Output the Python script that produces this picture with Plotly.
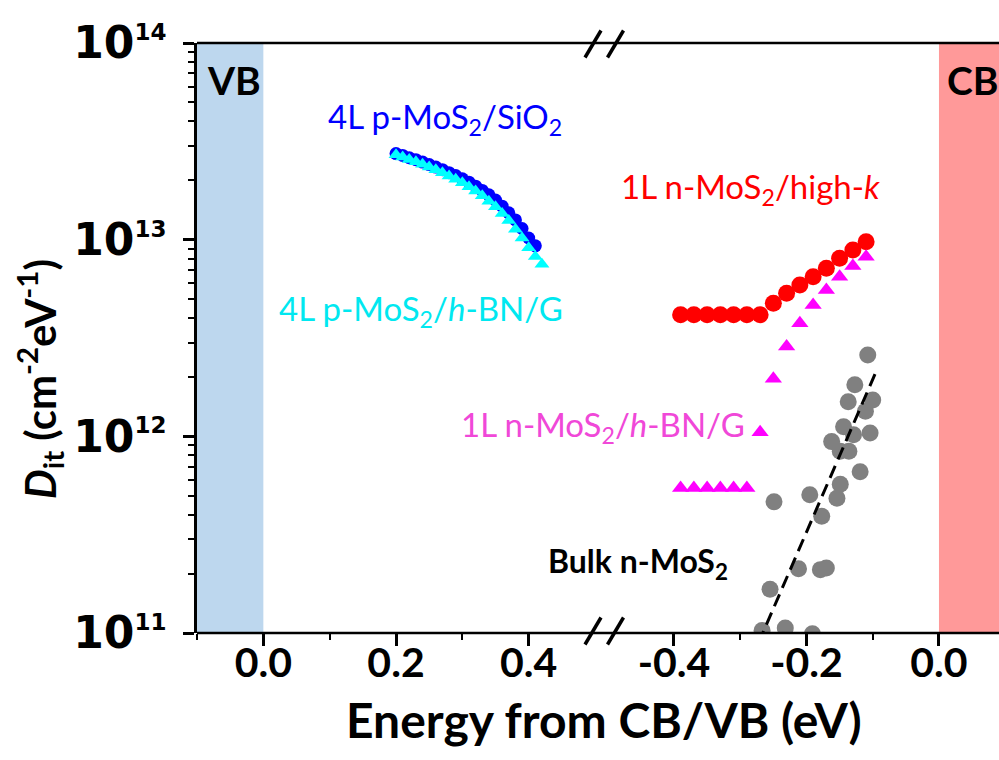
import plotly.graph_objects as go

# ---------------- data ----------------
# 4L p-MoS2 (valence-band side, energy from VB)
sio2_x = [0.20, 0.21, 0.22, 0.23, 0.24, 0.25, 0.26, 0.27, 0.28, 0.29, 0.30,
          0.31, 0.32, 0.33, 0.34, 0.35, 0.36, 0.37, 0.38, 0.39, 0.40, 0.41]
sio2_dit = [2.74e13, 2.68e13, 2.61e13, 2.55e13, 2.48e13, 2.41e13, 2.34e13, 2.27e13,
            2.19e13, 2.12e13, 2.04e13, 1.96e13, 1.87e13, 1.78e13, 1.69e13, 1.59e13,
            1.48e13, 1.37e13, 1.26e13, 1.14e13, 1.02e13, 9.3e12]

hbn4_x = [0.20, 0.21, 0.22, 0.23, 0.24, 0.25, 0.26, 0.27, 0.28, 0.29, 0.30, 0.31,
          0.32, 0.33, 0.34, 0.35, 0.36, 0.37, 0.38, 0.39, 0.40, 0.41, 0.42]
hbn4_dit = [2.70e13, 2.63e13, 2.56e13, 2.49e13, 2.42e13, 2.34e13, 2.27e13, 2.19e13,
            2.11e13, 2.03e13, 1.95e13, 1.86e13, 1.77e13, 1.67e13, 1.57e13, 1.47e13,
            1.36e13, 1.25e13, 1.13e13, 1.02e13, 9.1e12, 8.2e12, 7.5e12]

# 1L n-MoS2 (conduction-band side, energy from CB)
cb_x = [-0.39, -0.37, -0.35, -0.33, -0.31, -0.29, -0.27, -0.25,
        -0.23, -0.21, -0.19, -0.17, -0.15, -0.13, -0.11]
highk_dit = [4.15e12, 4.15e12, 4.15e12, 4.15e12, 4.15e12, 4.15e12, 4.15e12, 4.75e12,
             5.34e12, 5.88e12, 6.48e12, 7.15e12, 8.04e12, 8.85e12, 9.76e12]
hbn1_dit = [5.46e11, 5.46e11, 5.46e11, 5.46e11, 5.46e11, 5.46e11, 1.05e12, 1.96e12,
            2.86e12, 3.76e12, 4.66e12, 5.55e12, 6.48e12, 7.35e12, 8.19e12]

# Bulk n-MoS2
bulk_x = [-0.1075, -0.127, -0.137, -0.100, -0.111, -0.144, -0.129, -0.104,
          -0.162, -0.149, -0.136, -0.119, -0.149, -0.154, -0.195, -0.249,
          -0.177, -0.212, -0.179, -0.170, -0.255, -0.267, -0.232, -0.191]
bulk_dit = [2.59e12, 1.83e12, 1.50e12, 1.53e12, 1.34e12, 1.12e12, 1.02e12, 1.04e12,
            9.4e11, 8.4e11, 8.4e11, 6.6e11, 5.7e11, 4.85e11, 5.05e11, 4.65e11,
            3.92e11, 2.12e11, 2.10e11, 2.14e11, 1.67e11, 1.03e11, 1.06e11, 0.99e11]
fit_x = [-0.2725, -0.094]
fit_dit = [8.9e10, 2.17e12]

# axis ticks
left_ticks = [0.0, 0.2, 0.4]
left_labels = ["0.0", "0.2", "0.4"]
right_ticks = [-0.4, -0.2, 0.0]
right_labels = ["-0.4", "-0.2", "0.0"]
y_ticks = [1e11, 1e12, 1e13, 1e14]
y_exps = ["11", "12", "13", "14"]
y_labels = ["10<sup><span style='font-size:23px'>%s</span></sup>" % e for e in y_exps]

# ---------------- geometry helpers ----------------
W, H = 999, 760
L, R, T, B = 197, 0, 43, 127
PW, PH = W - L - R, H - T - B


def px(X):
    return (X - L) / PW


def py(Y):
    return (H - B - Y) / PH


LEFT_RANGE = [-0.1, 0.5]
RIGHT_RANGE = [-0.505, 0.0906]
LEFT_DOMAIN = [0, 0.4963]
RIGHT_DOMAIN = [0.508, 1]

fig = go.Figure()

fig.add_trace(go.Scatter(x=sio2_x, y=sio2_dit, mode="markers", xaxis="x", yaxis="y",
                         marker=dict(symbol="circle", size=13, color="#0000FF", line=dict(width=0))))
fig.add_trace(go.Scatter(x=hbn4_x, y=hbn4_dit, mode="markers", xaxis="x", yaxis="y",
                         marker=dict(symbol="triangle-up", size=13, color="#00FFFF", line=dict(width=0))))

fig.add_trace(go.Scatter(x=cb_x, y=highk_dit, mode="markers", xaxis="x2", yaxis="y",
                         marker=dict(symbol="circle", size=17, color="#FF0000", line=dict(width=0))))
fig.add_trace(go.Scatter(x=cb_x, y=hbn1_dit, mode="markers", xaxis="x2", yaxis="y",
                         marker=dict(symbol="triangle-up", size=15, color="#FF00FF", line=dict(width=0))))
fig.add_trace(go.Scatter(x=bulk_x, y=bulk_dit, mode="markers", xaxis="x2", yaxis="y",
                         marker=dict(symbol="circle", size=17, color="#808080", line=dict(width=0))))
fig.add_trace(go.Scatter(x=fit_x, y=fit_dit, mode="lines", xaxis="x2", yaxis="y",
                         line=dict(color="black", width=3, dash="13px,7px")))

tick_font = dict(family="Lato", size=41, color="black", weight="bold")
common_x = dict(showgrid=False, zeroline=False, showline=False, ticks="outside",
                ticklen=12, tickwidth=2.5, tickcolor="black", tickfont=tick_font,
                tickmode="array", anchor="y", ticklabelstandoff=-18)

minor_y = []
for dec in [1e11, 1e12, 1e13]:
    for m in range(2, 10):
        minor_y.append(m * dec)

fig.update_layout(
    width=W, height=H,
    margin=dict(l=L, r=R, t=T, b=B, pad=0),
    paper_bgcolor="white", plot_bgcolor="white",
    showlegend=False,
    xaxis=dict(domain=LEFT_DOMAIN, range=LEFT_RANGE, tickvals=left_ticks, ticktext=left_labels,
               minor=dict(tickvals=[-0.1, 0.1, 0.3], ticks="outside", ticklen=6, tickwidth=2,
                          tickcolor="black"),
               **common_x),
    xaxis2=dict(domain=RIGHT_DOMAIN, range=RIGHT_RANGE, tickvals=right_ticks, ticktext=right_labels,
                minor=dict(tickvals=[-0.3, -0.1], ticks="outside", ticklen=6, tickwidth=2,
                           tickcolor="black"),
                **common_x),
    yaxis=dict(type="log", range=[11, 14], showgrid=False, zeroline=False,
               showline=True, linewidth=2.5, linecolor="black", mirror=False,
               ticks="outside", ticklen=11, tickwidth=2.5, tickcolor="black",
               tickmode="array", tickvals=y_ticks, ticktext=y_labels,
               ticklabelstandoff=8,
               tickfont=dict(family="DejaVu Sans", size=44, color="black", weight="bold"),
               minor=dict(tickvals=minor_y, ticks="outside", ticklen=6, tickwidth=2,
                          tickcolor="black")),
)

shapes = [
    # band-edge regions
    dict(type="rect", xref="x", yref="paper", x0=-0.1, x1=0.0, y0=0, y1=1,
         fillcolor="#BDD7EE", line=dict(width=0), layer="below"),
    dict(type="rect", xref="x2", yref="paper", x0=0.0, x1=RIGHT_RANGE[1], y0=0, y1=1,
         fillcolor="#FF9999", line=dict(width=0), layer="below"),
    # frame lines across both panels
    dict(type="line", xref="paper", yref="paper", x0=0, x1=1, y0=0, y1=0,
         line=dict(color="black", width=2.5), layer="above"),
    dict(type="line", xref="paper", yref="paper", x0=0, x1=1, y0=1, y1=1,
         line=dict(color="black", width=2.5), layer="above"),
]
# axis-break marks
for cx in [593, 615.5]:
    for cy in [631, 44]:
        shapes.append(dict(type="line", xref="paper", yref="paper",
                           xsizemode="pixel", ysizemode="pixel",
                           xanchor=px(cx), yanchor=py(cy),
                           x0=-8, x1=8, y0=-13.5, y1=13.5,
                           line=dict(color="black", width=3.5), layer="above"))
fig.update_layout(shapes=shapes)

label_font = "Lato"
annotations = [
    dict(text="<b>VB</b>", x=px(234), y=py(80), font=dict(family=label_font, size=39, color="black")),
    dict(text="<b>CB</b>", x=px(972), y=py(80), font=dict(family=label_font, size=39, color="black")),
    dict(text="4L p-MoS<sub>2</sub>/SiO<sub>2</sub>", x=px(445), y=py(119),
         font=dict(family=label_font, size=33, color="#0000FF")),
    dict(text="4L p-MoS<sub>2</sub>/<i>h</i>-BN/G", x=px(420.5), y=py(310),
         font=dict(family=label_font, size=33, color="#00E8F0")),
    dict(text="1L n-MoS<sub>2</sub>/high-<i>k</i>", x=px(750), y=py(188),
         font=dict(family=label_font, size=33, color="#FF0000")),
    dict(text="1L n-MoS<sub>2</sub>/<i>h</i>-BN/G", x=px(603), y=py(426),
         font=dict(family=label_font, size=33, color="#F048D8")),
    dict(text="<b>Bulk n-MoS<sub>2</sub></b>", x=px(638), y=py(563),
         font=dict(family=label_font, size=32, color="black")),
    dict(text="<b>Energy from CB/VB (eV)</b>", x=px(604), y=py(719),
         font=dict(family=label_font, size=48, color="black")),
    dict(text="<b><i>D</i><sub>it</sub> (cm<sup>-2</sup>eV<sup>-1</sup>)</b>", x=px(39), y=py(379),
         textangle=-90, font=dict(family=label_font, size=42, color="black")),
]
for a in annotations:
    a.update(xref="paper", yref="paper", showarrow=False, xanchor="center", yanchor="middle")
fig.update_layout(annotations=annotations)

fig.write_html("out.html")
